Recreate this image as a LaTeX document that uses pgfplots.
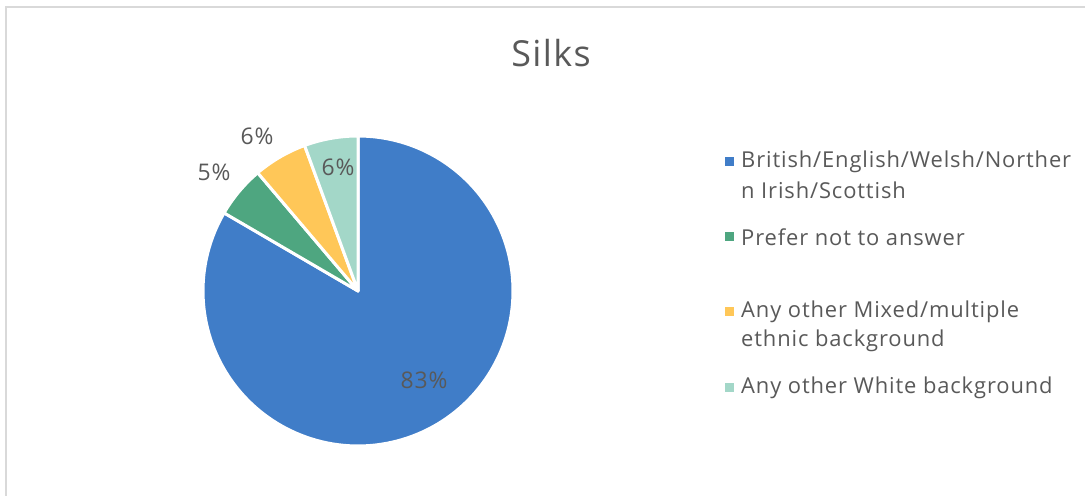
\documentclass[border=0pt]{standalone}
\usepackage{pgfplots}
\pgfplotsset{compat=1.18}
\usepackage{fontspec}
\setmainfont{Open Sans}[LetterSpace=4]
\definecolor{cblue}{RGB}{64,125,200}
\definecolor{cgreen}{RGB}{78,166,128}
\definecolor{cyellow}{RGB}{255,199,88}
\definecolor{cteal}{RGB}{163,215,200}
\definecolor{ctext}{RGB}{89,89,89}
\definecolor{cborder}{RGB}{217,217,217}

% shares (per cent), clockwise from 12 o'clock
\def\vA{83.4}
\def\vB{5.4}
\def\vC{5.6}
\def\vD{5.6}

\begin{document}
\begin{tikzpicture}[x=1bp,y=1bp]
\useasboundingbox (0,0) rectangle (1085,496);
\fill[white] (0,0) rectangle (1085,496);
\draw[cborder, line width=1.5bp] (6,0) -- (6,489) -- (1085,489);
\node[text=ctext, font=\fontsize{36}{42}\selectfont] at (551,443) {Silks};

\pgfmathsetmacro\aA{90-3.6*\vA}
\pgfmathsetmacro\aB{\aA-3.6*\vB}
\pgfmathsetmacro\aC{\aB-3.6*\vC}
\pgfmathsetmacro\aD{\aC-3.6*\vD}

\begin{axis}[at={(358bp,205bp)}, anchor=center, scale only axis,
  width=310bp, height=310bp, xmin=-1, xmax=1, ymin=-1, ymax=1,
  hide axis, clip=false]
\addplot[fill=cblue, draw=white, line width=3bp, line join=round, domain=90:\aA, samples=150] ({cos(x)},{sin(x)}) -- (axis cs:0,0) -- cycle;
\addplot[fill=cgreen, draw=white, line width=3bp, line join=round, domain=\aA:\aB, samples=20] ({cos(x)},{sin(x)}) -- (axis cs:0,0) -- cycle;
\addplot[fill=cyellow, draw=white, line width=3bp, line join=round, domain=\aB:\aC, samples=20] ({cos(x)},{sin(x)}) -- (axis cs:0,0) -- cycle;
\addplot[fill=cteal, draw=white, line width=3bp, line join=round, domain=\aC:\aD, samples=20] ({cos(x)},{sin(x)}) -- (axis cs:0,0) -- cycle;
\node[text=ctext, font=\fontsize{23}{28}\selectfont] at (axis cs:0.426,-0.574) {83\%};
\node[text=ctext, font=\fontsize{23}{28}\selectfont] at (axis cs:-0.929,0.768) {5\%};
\node[text=ctext, font=\fontsize{23}{28}\selectfont] at (axis cs:-0.652,1.0) {6\%};
\node[text=ctext, font=\fontsize{23}{28}\selectfont] at (axis cs:-0.129,0.8) {6\%};
\end{axis}

\begin{scope}[every node/.style={text=ctext, font=\fontsize{22}{26}\selectfont, anchor=west, inner sep=0pt}]
\fill[cblue] (724.5,329.5) rectangle +(9,9);
\node at (741,334) {British/English/Welsh/Norther};
\node at (741,306) {n Irish/Scottish};
\fill[cgreen] (724.5,254.5) rectangle +(9,9);
\node at (741,259) {Prefer not to answer};
\fill[cyellow] (724.5,179.5) rectangle +(9,9);
\node at (741,184) {Any other Mixed/multiple};
\node at (741,155) {ethnic background};
\fill[cteal] (724.5,103.5) rectangle +(9,9);
\node at (741,108) {Any other White background};
\end{scope}
\end{tikzpicture}
\end{document}
